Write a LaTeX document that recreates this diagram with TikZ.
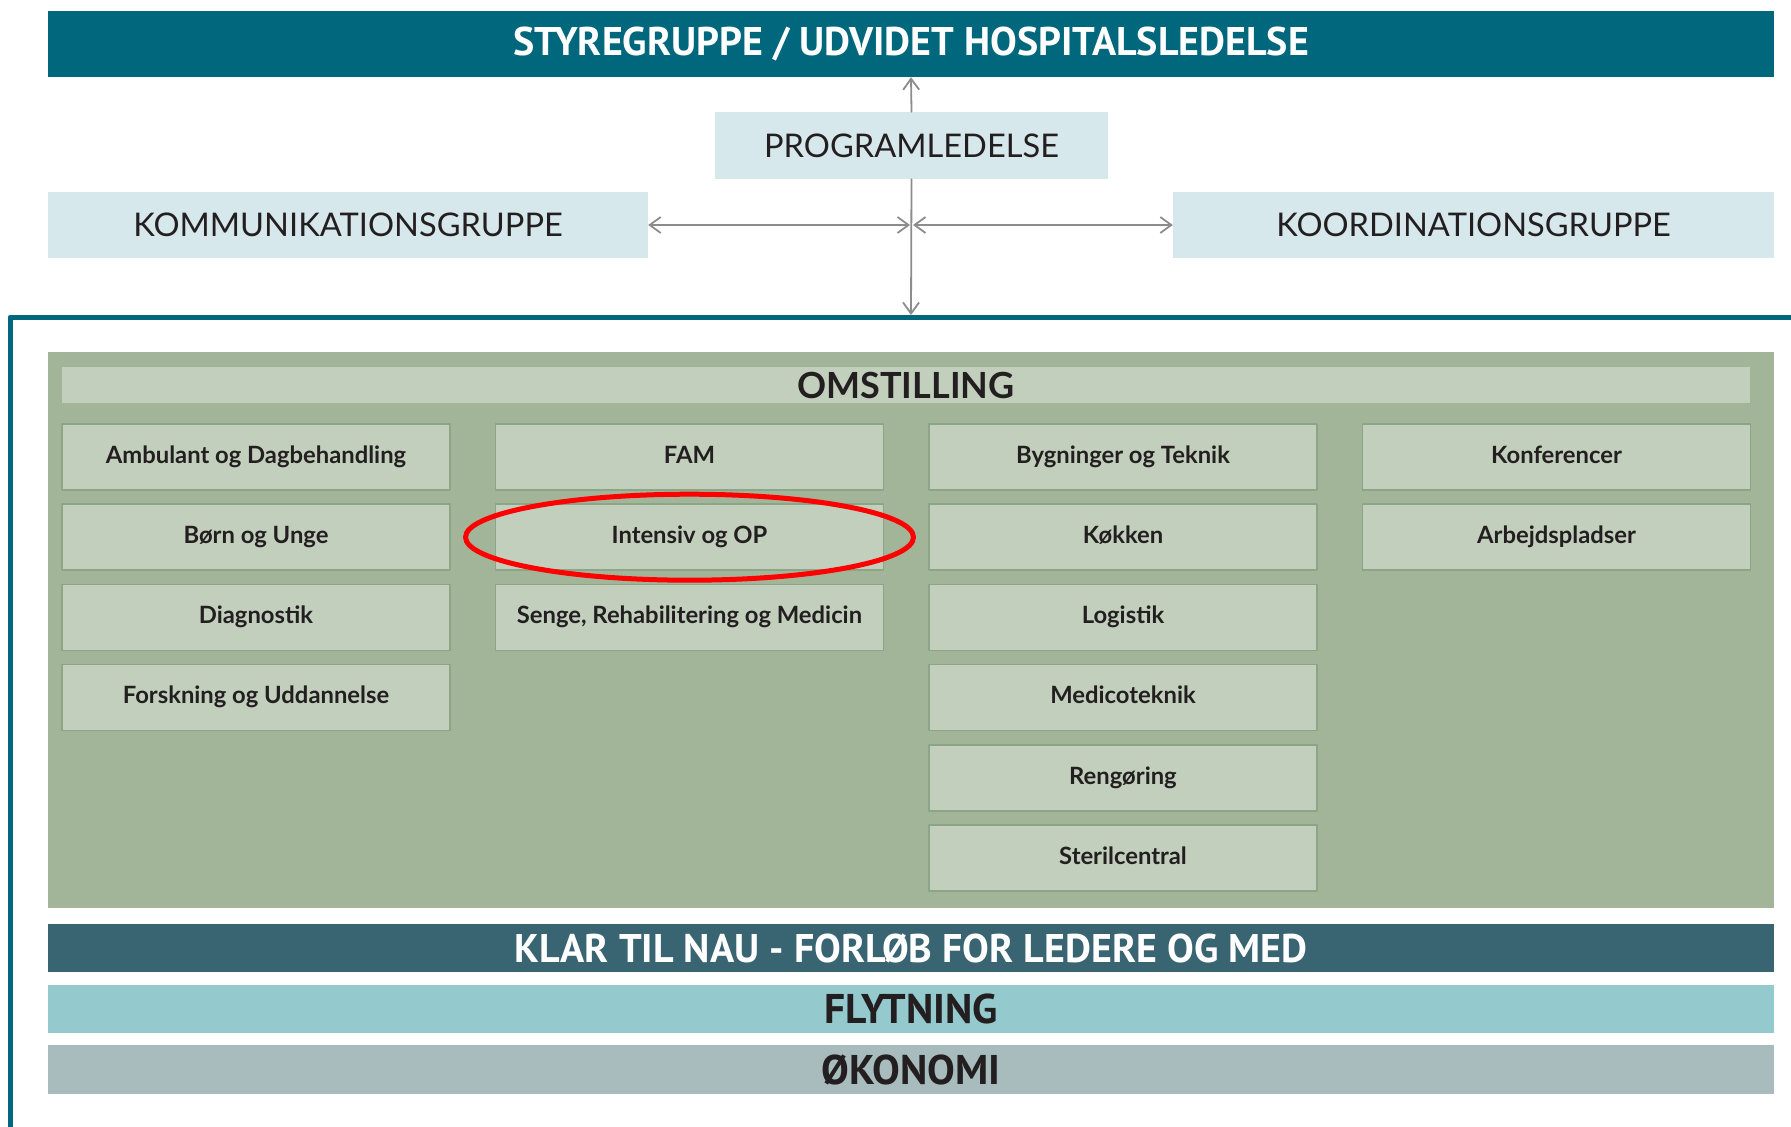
\documentclass[tikz,border=0pt]{standalone}
\usepackage{fontspec}
\setmainfont{Lato}
\newfontfamily\headfont{PT Sans}
\usetikzlibrary{arrows.meta}
\definecolor{headblue}{HTML}{00677D}
\definecolor{paleblue}{HTML}{D7E8EC}
\definecolor{arrowgray}{HTML}{8C8C8C}
\definecolor{panelgreen}{HTML}{A2B598}
\definecolor{unitgreen}{HTML}{C2CFBD}
\definecolor{unitline}{HTML}{8BA587}
\definecolor{navyteal}{HTML}{386571}
\definecolor{flytblue}{HTML}{94C9CE}
\definecolor{okogray}{HTML}{A8BCBE}
\definecolor{inkdark}{HTML}{231F20}
\begin{document}
\begin{tikzpicture}[line join=round, line cap=round, x=1pt, y=-1pt,
    >={Straight Barb[length=11pt,width=16pt]}]
    \tikzset{bar/.style={fill=#1, inner sep=0pt, minimum width=1726pt, anchor=center},
        group/.style={fill=paleblue, inner sep=0pt, minimum height=66pt, text=inkdark,
            font=\fontsize{32.6}{38}\selectfont},
        unit/.style={fill=unitgreen, draw=unitline, line width=1.5pt, inner sep=0pt,
            minimum width=388pt, minimum height=66pt, text=inkdark,
            text height=17.5pt, text depth=5pt,
            font=\fontsize{23.8}{27}\selectfont\bfseries},
        conn/.style={draw=arrowgray, line width=1.8pt}}
    \useasboundingbox (0,0) rectangle (1791,1127);
    % top of the organisation
    \node[bar=headblue, minimum height=66pt, text=white,
        font=\headfont\fontsize{40}{44}\selectfont\bfseries] (styre) at (911,44)
        {\raisebox{-2pt}{STYREGRUPPE / UDVIDET HOSPITALSLEDELSE}};
    \node[group, minimum width=393pt, minimum height=67pt] (prog) at (911.5,145.5) {PROGRAMLEDELSE};
    \node[group, minimum width=600pt] (komm) at (348,225) {KOMMUNIKATIONSGRUPPE};
    \node[group, minimum width=601pt] (koord) at (1473.5,225) {KOORDINATIONSGRUPPE};
    \coordinate (hub) at (911,225);
    \coordinate (frametop) at (911,315);
    \draw[conn,->] (prog.north) -- (styre.south);
    \draw[conn,->] (prog.south) -- (frametop);
    \draw[conn,<->] (komm.east) -- ([xshift=-1pt]hub);
    \draw[conn,<->] ([xshift=2pt]hub) -- (koord.west);
    % frame
    \draw[headblue, line width=5pt, line cap=butt] (10,1127) -- (10,317) -- (1791,317);
    % omstilling
    \fill[panelgreen] (48,352) rectangle (1774,908);
    \node[fill=unitgreen, inner sep=0pt, minimum width=1688pt, minimum height=36pt,
        text=inkdark, font=\fontsize{36}{40}\selectfont\bfseries] (omst) at (906,385) {OMSTILLING};
    \foreach \c/\r/\txt in {1/1/Ambulant og Dagbehandling, 1/2/Børn og Unge, 1/3/Diagnostik,
        1/4/Forskning og Uddannelse, 2/1/FAM, 2/2/Intensiv og OP,
        2/3/{Senge, Rehabilitering og Medicin}, 3/1/Bygninger og Teknik, 3/2/Køkken,
        3/3/Logistik, 3/4/Medicoteknik, 3/5/Rengøring, 3/6/Sterilcentral,
        4/1/Konferencer, 4/2/Arbejdspladser}
    \node[unit] (u\c\r) at ({256+433.5*(\c-1)},{457+80.2*(\r-1)}) {\txt};
    \draw[red, line width=5pt] (u22.center) ellipse [x radius=224pt, y radius=43pt];
    % bars below
    \node[bar=navyteal, minimum height=48pt, text=white,
        font=\headfont\fontsize{40}{44}\selectfont\bfseries] (klar) at (911,948)
        {KLAR TIL NAU - FORLØB FOR LEDERE OG MED};
    \node[bar=flytblue, minimum height=48pt, text=inkdark,
        font=\headfont\fontsize{41.5}{44}\selectfont\bfseries] (flyt) at (911,1009) {FLYTNING};
    \node[bar=okogray, minimum height=49pt, text=inkdark,
        font=\headfont\fontsize{41.5}{44}\selectfont\bfseries] (oko) at (911,1069.5) {ØKONOMI};
\end{tikzpicture}
\end{document}
